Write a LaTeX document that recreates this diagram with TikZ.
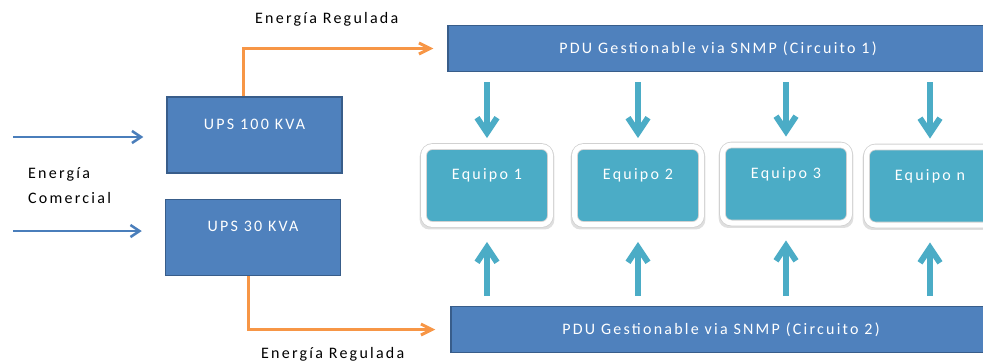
\documentclass[tikz,border=0pt]{standalone}
\usepackage{fontspec}
\setmainfont{Carlito}[LetterSpace=14]
\usetikzlibrary{arrows.meta,shadows}
\definecolor{upsblue}{HTML}{4F81BD}
\definecolor{upsedge}{HTML}{385D8A}
\definecolor{eqteal}{HTML}{4BACC6}
\definecolor{regorange}{HTML}{F79646}
\definecolor{inblue}{HTML}{4A7EBB}

\begin{document}
\begin{tikzpicture}[x=1pt,y=-1pt,font=\fontsize{16}{25}\selectfont,
    upsbox/.style={draw=upsedge,line width=1.5pt,fill=upsblue,text=white,
        minimum width=175pt,minimum height=76pt,text height=12pt,text depth=24pt},
    pdubox/.style={draw=upsedge,line width=1.5pt,fill=upsblue,text=white,
        minimum width=540pt,minimum height=46pt},
    eqbox/.style={draw=black!18,line width=0.8pt,double=white,double distance=5pt,
        fill=eqteal,text=white,rounded corners=9pt,
        minimum width=127pt,minimum height=78pt,text height=12pt,text depth=24pt,
        drop shadow={shadow xshift=0pt,shadow yshift=-2.5pt,shadow scale=1.06,opacity=.25}},
    feed/.style={-{Straight Barb[length=15pt,width=20pt]},draw=eqteal,line width=6pt},
    regulated/.style={-{Straight Barb[length=11pt,width=11pt]},draw=regorange,line width=3pt},
    mains/.style={-{Straight Barb[length=9pt,width=12pt]},draw=inblue,line width=2.5pt}]
    \useasboundingbox (0,0) rectangle (983,361);
    \clip (0,0) rectangle (983,361);

    % UPS units and PDUs
    \node[upsbox] (u100) at (254.5,135) {UPS 100 KVA};
    \node[upsbox] (u30) at (253,237.5) {UPS 30 KVA};
    \node[pdubox] (p1) at (718,48.5) {PDU Gestionable via SNMP (Circuito 1)};
    \node[pdubox] (p2) at (721,329.5) {PDU Gestionable via SNMP (Circuito 2)};

    % equipment row
    \node[eqbox] (e1) at (487,185.5) {Equipo 1};
    \node[eqbox] (e2) at (638,185.5) {Equipo 2};
    \node[eqbox] (e3) at (786,184) {Equipo 3};
    \node[eqbox] (e4) at (930,186) {Equipo n};

    % commercial power in
    \node[anchor=base west,align=left,inner sep=0pt] (com) at (28,203) {Energía\\Comercial};
    \coordinate (in1) at (13,137);
    \coordinate (in2) at (13,231);
    \draw[mains,shorten >=23pt] (in1) -- (in1 -| u100.west);
    \draw[mains,shorten >=23pt] (in2) -- (in2 -| u30.west);

    % regulated power out
    \coordinate (o1) at (243,0);
    \coordinate (o2) at (248,0);
    \draw[regulated,shorten >=14pt] (u100.north -| o1) |- (p1.west);
    \draw[regulated,shorten >=15pt] (u30.south -| o2) |- (p2.west);
    \node[anchor=base west,inner sep=0pt] (reg1) at (255,23.5) {Energía Regulada};
    \node[anchor=base west,inner sep=0pt] (reg2) at (261,358) {Energía Regulada};

    \foreach \e in {e1,e2,e3,e4} {
        \draw[feed,shorten <=10pt,shorten >=8pt] (p1.south -| \e) -- (\e.north);
        \draw[feed,shorten <=10pt,shorten >=17pt] (p2.north -| \e) -- (\e.south);
    }
\end{tikzpicture}
\end{document}
